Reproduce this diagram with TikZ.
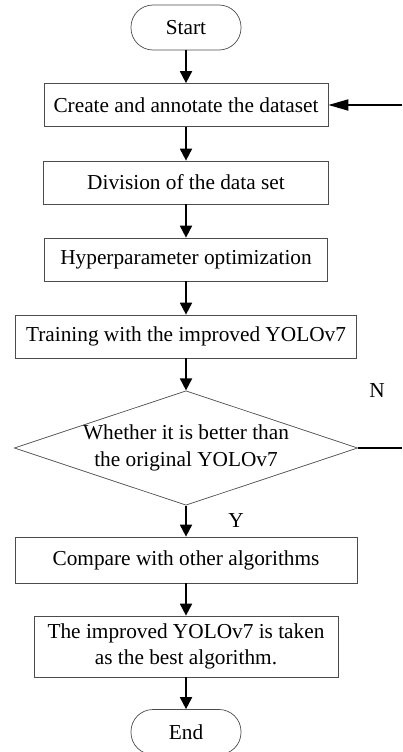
\documentclass[tikz,border=0pt]{standalone}
\usepackage{fontspec}
\setmainfont{Liberation Serif}
\usetikzlibrary{arrows.meta,shapes.geometric,positioning}
\tikzset{
  flow/.style={-{Triangle[length=12pt,width=12pt]}, line width=1.8pt, black},
  back/.style={line width=1.8pt, black},
  backflow/.style={-{Triangle[length=20pt,width=11pt]}, line width=1.8pt, black},
  stepbox/.style={draw=black!70, line width=0.7pt, minimum height=43pt, align=center, inner sep=0pt},
  terminal/.style={draw=black!70, line width=0.7pt, rounded corners=22pt, minimum width=110pt, minimum height=45pt, inner sep=0pt},
  decision/.style={diamond, draw=black!70, line width=0.7pt, aspect=3, inner sep=0pt, align=center}
}

\begin{document}
\begin{tikzpicture}[x=1pt,y=-1pt,font=\fontsize{21.3}{26.5}\selectfont]
  \useasboundingbox (0,0) rectangle (402,752);
  \node[terminal] (start) at (186,27.5) {Start};
  \node[stepbox, minimum width=284pt] (create) at (186,105) {Create and annotate the dataset};
  \node[stepbox, minimum width=285pt] (divide) at (186,182.5) {Division of the data set};
  \node[stepbox, minimum width=283pt] (hyper) at (186,259.5) {Hyperparameter optimization};
  \node[stepbox, minimum width=341pt] (train) at (186,336.5) {Training with the improved YOLOv7};
  \node[decision] (check) at (186,448) {Whether it is better than\\the original YOLOv7};
  \node[stepbox, minimum width=342pt, minimum height=46pt] (compare) at (186,560) {Compare with other algorithms};
  \node[stepbox, minimum width=304pt, minimum height=61pt] (best) at (186,646.5) {The improved YOLOv7 is taken\\as the best algorithm.};
  \node[terminal] (end) at (186,732) {End};
  \node (nolabel) at (377,391) {N};
  \node (yeslabel) at (236,521) {Y};
  \coordinate (backin) at (402,105);
  \coordinate (backout) at (402,448);
  \draw[flow] (start) -- (create);
  \draw[flow] (create) -- (divide);
  \draw[flow] (divide) -- (hyper);
  \draw[flow] (hyper) -- (train);
  \draw[flow] (train) -- (check);
  \draw[flow] (check) -- (compare);
  \draw[flow] (compare) -- (best);
  \draw[flow] (best) -- (end);
  \draw[back] (check.east) -- (backout);
  \draw[backflow] (backin) -- (create);
\end{tikzpicture}
\end{document}
